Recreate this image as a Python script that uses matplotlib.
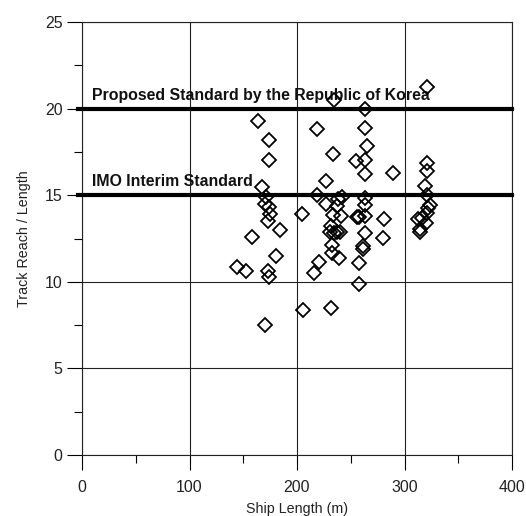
import matplotlib
matplotlib.use("Agg")
import matplotlib.pyplot as plt
from matplotlib.ticker import MultipleLocator

# Ship length (m) and track reach / length ratio
ship_length = [
    163.5, 174, 174, 167, 171, 170, 174, 175, 173, 184, 158, 180.5, 144, 152.5, 173, 174, 170.5,
    234, 219, 233.5, 227, 219, 227, 238, 205, 233.5, 241, 231.5, 231, 234, 237, 240,
    232.5, 232.5, 239, 220.5, 216, 205.5, 232, 242, 237,
    263, 263, 265, 255, 263, 263, 263, 263, 258, 263, 263, 261, 261, 258, 258, 256,
    289, 281, 280,
    321, 321, 321, 319, 321, 324, 322, 321, 316, 313, 320, 314, 314,
]
reach_ratio = [
    19.3, 18.2, 17.05, 15.45, 14.9, 14.5, 14.3, 13.9, 13.5, 13.0, 12.6, 11.5, 10.85, 10.6, 10.6, 10.3, 7.5,
    20.5, 18.85, 17.35, 15.8, 15.0, 14.5, 14.8, 13.9, 13.85, 13.8, 13.2, 12.85, 12.8, 12.9, 12.85,
    12.1, 11.65, 11.4, 11.15, 10.5, 8.35, 8.5, 14.9, 14.4,
    20.0, 18.9, 17.85, 17.0, 17.05, 16.2, 14.85, 14.45, 13.75, 13.8, 12.8, 12.05, 11.9, 11.1, 9.85, 13.75,
    16.3, 13.6, 12.55,
    21.25, 16.85, 16.4, 15.55, 15.0, 14.45, 14.25, 14.0, 13.7, 13.6, 13.4, 13.05, 12.9,
]

standards = [20, 15]
standard_labels = ["Proposed Standard by the Republic of Korea", "IMO Interim Standard"]

x_ticks = [0, 100, 200, 300, 400]
y_ticks = [0, 5, 10, 15, 20, 25]

plt.rcParams['font.family'] = ['Liberation Sans', 'DejaVu Sans']

fig = plt.figure(figsize=(5.26, 5.16), dpi=100)
ax = fig.add_axes([82 / 526, 61 / 516, 430 / 526, 433 / 516])

ax.set_xlim(0, 400)
ax.set_ylim(0, 25)
ax.set_xticks(x_ticks)
ax.set_yticks(y_ticks)
ax.xaxis.set_minor_locator(MultipleLocator(50))
ax.yaxis.set_minor_locator(MultipleLocator(2.5))
ax.tick_params(which='major', length=11, width=0.8, direction='out', labelsize=11.5,
               labelcolor='#222222')
ax.tick_params(axis='x', which='major', pad=7)
ax.tick_params(axis='y', which='major', pad=3)
ax.tick_params(which='minor', length=6, width=0.8, direction='out')
ax.grid(True, which='major', color='#222222', linewidth=0.8)
ax.set_axisbelow(True)
for s in ax.spines.values():
    s.set_linewidth(0.8)
    s.set_color('#222222')

for yv, lab in zip(standards, standard_labels):
    ax.plot([-4, 400], [yv, yv], color='black', linewidth=3, clip_on=False, zorder=3)
    ax.text(9, yv + 0.35, lab, fontsize=11.4, fontweight='bold', color='#111111',
            ha='left', va='bottom', zorder=4)

ax.plot(ship_length, reach_ratio, linestyle='none', marker='D', markersize=7.5,
        markerfacecolor='none', markeredgecolor='black', markeredgewidth=1.3, zorder=5)

ax.set_xlabel('Ship Length (m)', fontsize=10.3, color='#222222', labelpad=5)
ax.set_ylabel('Track Reach / Length', fontsize=10.3, color='#222222', labelpad=10)

fig.savefig('out.png', dpi=100)
